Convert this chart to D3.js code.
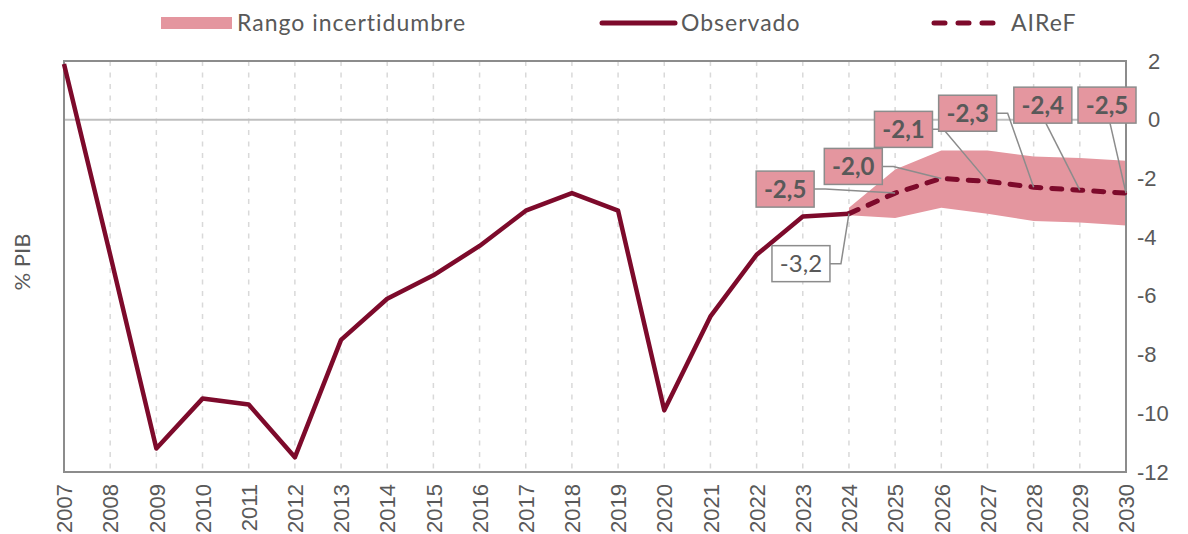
<!DOCTYPE html>
<html>
<head>
  <meta charset="utf-8">
  <title>Saldo % PIB - Observado y AIReF</title>
  <script src="https://d3js.org/d3.v7.min.js"></script>
  <style>
    body { margin: 0; background: #fff; }
    svg { font-family: Lato, "Open Sans", sans-serif; }
    .tick-label { fill: #595959; font-size: 22px; }
    .legend-text { fill: #595959; font-size: 23px; letter-spacing: 1px; }
  </style>
</head>
<body>
<svg id="chart" width="1188" height="534"></svg>
<script>
  // Données
  const years = d3.range(2007, 2031);
  const obsYears = d3.range(2007, 2025);
  const observado = [1.9, -4.6, -11.2, -9.5, -9.7, -11.5, -7.5, -6.1, -5.3, -4.3,
                     -3.1, -2.5, -3.1, -9.9, -6.7, -4.6, -3.3, -3.2];
  const airefYears = [2024, 2025, 2026, 2027, 2028, 2029, 2030];
  const airef = [-3.2, -2.5, -2.0, -2.1, -2.3, -2.4, -2.5];
  const bandUpper = [-3.0, -1.7, -1.05, -1.05, -1.25, -1.3, -1.4];
  const bandLower = [-3.25, -3.35, -3.0, -3.2, -3.45, -3.5, -3.6];
  const labelTexts = ["-3,2", "-2,5", "-2,0", "-2,1", "-2,3", "-2,4", "-2,5"];
  const yTicks = [2, 0, -2, -4, -6, -8, -10, -12];

  // Mise en page des étiquettes (décalage par rapport au point, côté du trait)
  const labelLayout = [
    { dx: -48, dy: 50, side: "right" },
    { dx: -110, dy: -4, side: "right" },
    { dx: -88, dy: -12, side: "right" },
    { dx: -84, dy: -52, side: "right" },
    { dx: -66, dy: -74, side: "right" },
    { dx: -37, dy: -85, side: "bottom" },
    { dx: -19, dy: -88, side: "bottom" }
  ];

  const dark = "#7d0a2b", pink = "#e4969f", grey = "#595959";
  const mLeft = 64, mRight = 1126, mTop = 61, mBottom = 472;

  const svg = d3.select("#chart");
  const x = d3.scaleLinear().domain([2007, 2030]).range([mLeft, mRight]);
  const y = d3.scaleLinear().domain([-12, 2]).range([mBottom, mTop]);

  // Grille verticale en pointillés
  svg.append("g").selectAll("line")
    .data(years.slice(1, -1))
    .join("line")
    .attr("x1", d => x(d)).attr("x2", d => x(d))
    .attr("y1", mTop).attr("y2", mBottom)
    .attr("stroke", "#d9d9d9").attr("stroke-width", 1.5)
    .attr("stroke-dasharray", "5,6.5");

  // Ligne du zéro
  svg.append("line")
    .attr("x1", mLeft).attr("x2", mRight)
    .attr("y1", y(0)).attr("y2", y(0))
    .attr("stroke", "#bfbfbf").attr("stroke-width", 2);

  // Bande d'incertitude
  const area = d3.area()
    .x((d, i) => x(airefYears[i]))
    .y0((d, i) => y(bandLower[i]))
    .y1((d, i) => y(bandUpper[i]));
  svg.append("path")
    .datum(airefYears)
    .attr("fill", pink)
    .attr("d", area);

  // Cadre
  svg.append("rect")
    .attr("x", mLeft).attr("y", mTop)
    .attr("width", mRight - mLeft).attr("height", mBottom - mTop)
    .attr("fill", "none").attr("stroke", "#8c8c8c").attr("stroke-width", 2);

  // Série observée
  const line = d3.line().x(d => x(d[0])).y(d => y(d[1]));
  svg.append("path")
    .datum(obsYears.map((yr, i) => [yr, observado[i]]))
    .attr("fill", "none").attr("stroke", dark).attr("stroke-width", 4.5)
    .attr("stroke-linejoin", "round")
    .attr("d", line);

  // Prévision AIReF
  svg.append("path")
    .datum(airefYears.map((yr, i) => [yr, airef[i]]))
    .attr("fill", "none").attr("stroke", dark).attr("stroke-width", 5)
    .attr("stroke-dasharray", "10,11").attr("stroke-linecap", "round")
    .attr("d", line);

  // Axe Y à droite
  const yAxis = svg.append("g")
    .attr("transform", `translate(${mRight + 11},0)`)
    .call(d3.axisRight(y).tickValues(yTicks).tickSize(0).tickPadding(0)
      .tickFormat(d => d < 0 ? "-" + Math.abs(d) : d));
  yAxis.select(".domain").remove();
  yAxis.selectAll("text")
    .attr("class", "tick-label")
    .attr("dx", d => d < 0 ? 0 : 11)
    .attr("font-family", null).attr("font-size", null).attr("fill", null);

  // Axe X : années verticales
  const xAxis = svg.append("g")
    .attr("transform", `translate(0,${mBottom})`)
    .call(d3.axisBottom(x).tickValues(years).tickSize(0).tickFormat(d3.format("d")));
  xAxis.select(".domain").remove();
  xAxis.selectAll("text")
    .attr("class", "tick-label")
    .attr("font-family", null).attr("font-size", null).attr("fill", null)
    .attr("transform", "rotate(-90)")
    .attr("text-anchor", "end")
    .attr("x", -12).attr("y", 0).attr("dy", "0.35em");

  // Titre de l'axe
  svg.append("text")
    .attr("class", "tick-label")
    .attr("transform", "translate(30,262) rotate(-90)")
    .attr("text-anchor", "middle")
    .text("% PIB");

  // Étiquettes de données avec traits de rappel
  const boxW = 58, boxH = 36;
  const labels = svg.append("g");
  airefYears.forEach((yr, i) => {
    const px = x(yr), py = y(airef[i]);
    const L = labelLayout[i];
    const cx = px + L.dx, cy = py + L.dy;
    let pts;
    if (L.side === "right") {
      pts = [[cx + boxW / 2, cy], [cx + boxW / 2 + 11, cy], [px, py]];
    } else {
      pts = [[cx + 3, cy + boxH / 2], [px, py]];
    }
    labels.append("path")
      .attr("d", d3.line()(pts))
      .attr("fill", "none").attr("stroke", "#8c8c8c").attr("stroke-width", 1.5);
    labels.append("rect")
      .attr("x", cx - boxW / 2).attr("y", cy - boxH / 2)
      .attr("width", boxW).attr("height", boxH)
      .attr("fill", i === 0 ? "#fff" : pink)
      .attr("stroke", "#8c8c8c").attr("stroke-width", 1.5);
    labels.append("text")
      .attr("x", cx).attr("y", cy).attr("dy", "0.36em")
      .attr("text-anchor", "middle")
      .attr("fill", grey)
      .attr("font-size", 24)
      .attr("font-weight", i === 0 ? "normal" : "bold")
      .text(labelTexts[i]);
  });

  // Légende
  const legend = svg.append("g");
  legend.append("rect")
    .attr("x", 161).attr("y", 17).attr("width", 71).attr("height", 12)
    .attr("fill", pink);
  legend.append("text").attr("class", "legend-text")
    .attr("x", 237).attr("y", 23).attr("dy", "0.35em").text("Rango incertidumbre");
  legend.append("line")
    .attr("x1", 602).attr("x2", 675).attr("y1", 23).attr("y2", 23)
    .attr("stroke", dark).attr("stroke-width", 5).attr("stroke-linecap", "round");
  legend.append("text").attr("class", "legend-text")
    .attr("x", 681).attr("y", 23).attr("dy", "0.35em").text("Observado");
  legend.append("line")
    .attr("x1", 934).attr("x2", 998).attr("y1", 23).attr("y2", 23)
    .attr("stroke", dark).attr("stroke-width", 5).attr("stroke-linecap", "round")
    .attr("stroke-dasharray", "11,13");
  legend.append("text").attr("class", "legend-text")
    .attr("x", 1011).attr("y", 23).attr("dy", "0.35em").text("AIReF");
</script>
</body>
</html>
